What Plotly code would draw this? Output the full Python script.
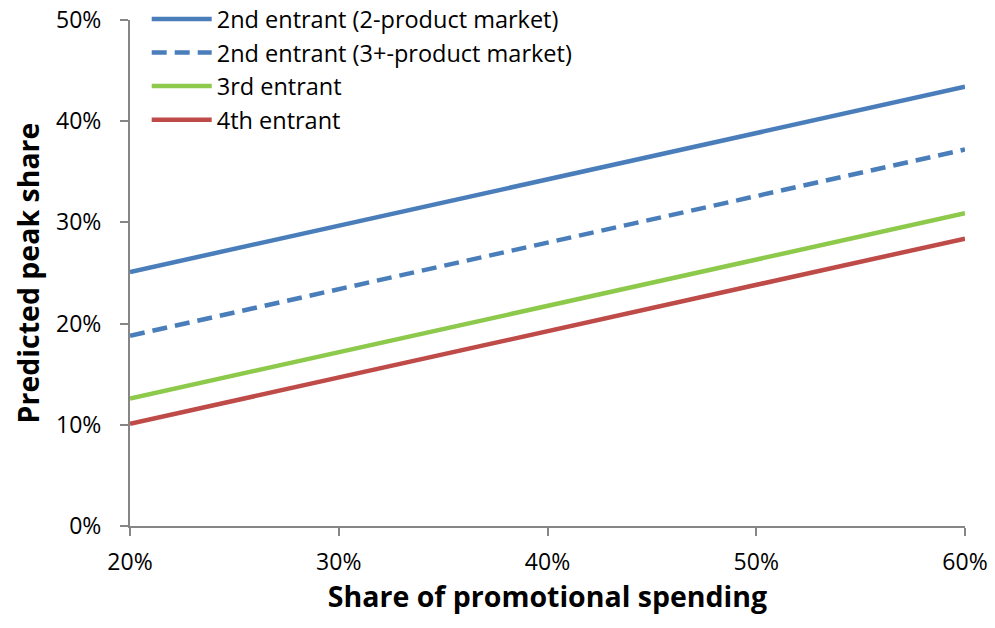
import plotly.graph_objects as go

# Share of promotional spending (x) and predicted peak share (y), in percent
promo_share = [20, 60]
second_2prod = [25.1, 43.4]
second_3prod = [18.8, 37.2]
third_entrant = [12.6, 30.9]
fourth_entrant = [10.1, 28.4]

series = [
    ("2nd entrant (2-product market)", second_2prod, "#4A7EBB", "solid"),
    ("2nd entrant (3+-product market)", second_3prod, "#4A7EBB", "15px,8px"),
    ("3rd entrant", third_entrant, "#8DC94B", "solid"),
    ("4th entrant", fourth_entrant, "#BE4B48", "solid"),
]

FONT = "Open Sans"

fig = go.Figure()
for name, ys, color, dash in series:
    fig.add_trace(go.Scatter(
        x=[v / 100 for v in promo_share],
        y=[v / 100 for v in ys],
        mode="lines",
        name=name,
        line=dict(color=color, width=4.5, dash=dash),
    ))

axis_common = dict(
    showgrid=False,
    zeroline=False,
    showline=True,
    linecolor="#868686",
    linewidth=2,
    ticks="outside",
    tickcolor="#868686",
    tickwidth=2,
    ticklen=8,
    tickformat=".0%",
    tickfont=dict(family=FONT, size=23, color="#000000"),
)

fig.update_layout(
    width=995,
    height=628,
    margin=dict(l=130, r=30, t=20, b=102, autoexpand=False),
    paper_bgcolor="white",
    plot_bgcolor="white",
    font=dict(family=FONT, color="#000000"),
    xaxis=dict(
        range=[0.2, 0.6],
        tickvals=[0.2, 0.3, 0.4, 0.5, 0.6],
        title=dict(text="<b>Share of promotional spending</b>",
                   font=dict(family=FONT, size=28.5), standoff=6),
        ticklabelstandoff=6,
        **axis_common,
    ),
    yaxis=dict(
        range=[0, 0.5],
        tickvals=[0, 0.1, 0.2, 0.3, 0.4, 0.5],
        title=dict(text="<b>Predicted peak share</b>",
                   font=dict(family=FONT, size=28.5), standoff=8),
        ticklabelstandoff=14,
        **axis_common,
    ),
    legend=dict(
        x=0.02, y=1.045, xanchor="left", yanchor="top",
        bgcolor="rgba(0,0,0,0)",
        font=dict(family=FONT, size=23.5),
        itemwidth=60,
        tracegroupgap=0,
    ),
    showlegend=True,
)

fig.write_html("out.html")
